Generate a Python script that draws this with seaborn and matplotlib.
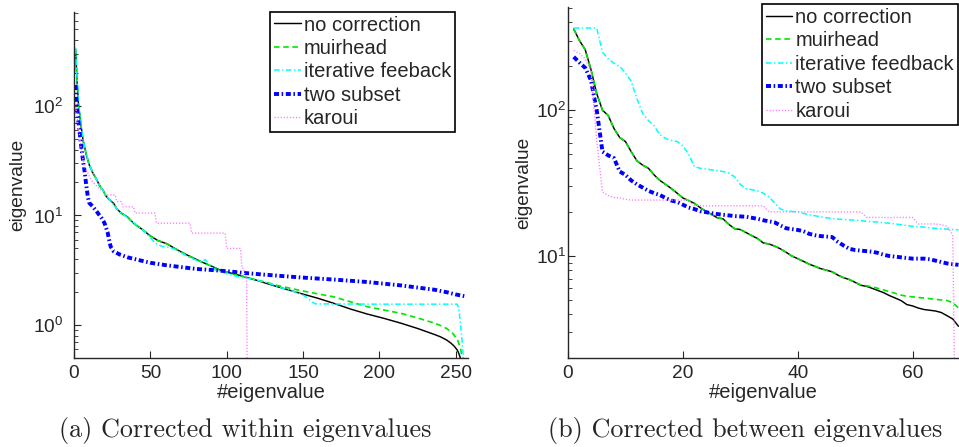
import numpy as np
import pandas as pd
import matplotlib
matplotlib.use("Agg")
import matplotlib.pyplot as plt
import seaborn as sns

# ---------------- data: panel (a) corrected within eigenvalues ----------------
a_nocorr_x = [1, 2, 3, 4, 5, 6, 7, 8, 10, 12, 15, 17, 19, 21, 23, 26, 28, 31, 35, 39, 45, 50, 55,
              61, 66, 72, 78, 83, 90, 95, 100, 108, 115, 120, 126, 135, 148, 160, 170, 181, 192,
              203, 214, 225, 236, 240, 244, 247, 249, 251, 252, 253, 254, 255]
a_nocorr = [330, 170, 100, 78, 60, 48, 42, 36, 29, 25, 21, 18.5, 17, 15, 14, 12.9, 11.5, 10.5, 9.7,
            8.5, 7.4, 6.5, 5.9, 5.5, 5.0, 4.5, 4.1, 3.8, 3.45, 3.2, 3.05, 2.85, 2.67, 2.55, 2.4,
            2.2, 1.95, 1.75, 1.58, 1.4, 1.26, 1.15, 1.04, 0.93, 0.82, 0.78, 0.73, 0.68, 0.64,
            0.59, 0.55, 0.5, 0.42, 0.35]

a_muir_x = [1, 2, 3, 4, 5, 6, 7, 8, 10, 12, 15, 17, 19, 21, 23, 26, 28, 31, 35, 39, 45, 50, 55,
            61, 66, 72, 78, 83, 90, 95, 100, 108, 115, 120, 126, 133, 148, 160, 170, 181, 192,
            203, 214, 225, 236, 240, 244, 248, 251, 253, 254, 255, 256]
a_muir = [330, 170, 100, 78, 60, 48, 42, 36, 29, 25, 21, 18.5, 17, 15, 14, 12.9, 11.5, 10.5, 9.7,
          8.5, 7.4, 6.5, 5.9, 5.5, 5.0, 4.5, 4.1, 3.8, 3.45, 3.2, 3.05, 2.85, 2.67, 2.57, 2.45,
          2.3, 2.07, 1.92, 1.81, 1.63, 1.47, 1.37, 1.28, 1.16, 1.04, 0.99, 0.93, 0.84, 0.74,
          0.62, 0.52, 0.45, 0.4]

a_iter_x = [1, 2, 3, 4, 5, 6, 8, 10, 12, 15, 17, 19, 21, 23, 26, 28, 31, 35, 39, 45, 50, 53, 58,
            63, 66, 72, 78, 83, 86, 88, 92, 100, 108, 115, 120, 126, 135, 148, 152, 156, 158,
            200, 251, 252, 253, 254, 255, 256]
a_iter = [340, 180, 105, 80, 62, 48, 37, 29, 25, 21, 18.5, 17, 15, 14.2, 12.5, 11.5, 10.5, 9.6,
          8.6, 7.4, 6.3, 5.6, 5.2, 5.1, 4.9, 4.4, 4.0, 3.8, 3.95, 3.6, 3.2, 2.95, 2.75, 2.65,
          2.55, 2.45, 2.2, 1.95, 1.8, 1.62, 1.56, 1.55, 1.55, 1.4, 1.05, 0.75, 0.5, 0.3]

a_two_x = [1, 2, 3, 4, 5, 6, 7, 8, 9, 10, 12, 15, 18, 20, 22, 23, 24, 26, 30, 35, 43, 50, 60, 70,
           80, 90, 100, 110, 125, 148, 170, 192, 214, 236, 245, 250, 256]
a_two = [155, 95, 70, 52, 40, 31, 25, 19, 15, 13, 12.2, 10.8, 9.5, 8.5, 7.0, 6.0, 5.2, 4.7, 4.4,
         4.15, 3.9, 3.7, 3.52, 3.38, 3.25, 3.18, 3.1, 3.0, 2.88, 2.72, 2.6, 2.47, 2.3, 2.1,
         1.98, 1.9, 1.83]

a_karoui_x = [1, 2, 3, 4, 5, 6, 7, 8, 10, 12, 15, 18, 20, 21, 27, 28, 31, 32, 39, 40, 53, 54, 76,
              77, 99, 100, 109, 110, 111, 112, 113, 114]
a_karoui = [105, 80, 62, 48, 38, 32, 28, 26, 23, 20.5, 18.5, 17, 16.2, 15.4, 15.4, 13.4, 13.4,
            12, 12, 10.5, 10.5, 8.5, 8.5, 6.9, 6.9, 5.0, 5.0, 3.3, 3.3, 2.8, 2.8, 0.01]

# ---------------- data: panel (b) corrected between eigenvalues ----------------
b_index = list(range(1, 69))
b_nocorr = [360, 300, 260, 190, 130, 100, 92, 75, 65, 61, 52, 45, 42, 40, 36, 33, 31, 29, 27, 25,
            24, 23, 21.5, 20.3, 19.3, 18.3, 18.0, 16.5, 15.4, 15.2, 14.5, 13.8, 13.2, 12.3, 12.1,
            11.7, 11.2, 10.6, 10.0, 9.6, 9.2, 8.8, 8.5, 8.2, 8.0, 7.8, 7.4, 7.1, 6.9, 6.6, 6.3,
            6.2, 6.0, 5.8, 5.6, 5.35, 5.15, 4.95, 4.65, 4.55, 4.4, 4.3, 4.25, 4.2, 4.1, 3.9, 3.7,
            3.3]
b_muir = [360, 300, 260, 190, 130, 100, 92, 75, 65, 61, 52, 45, 42, 40, 36, 33, 31, 29, 27, 25,
          24, 23, 21.5, 20.3, 19.3, 18.3, 18.0, 16.5, 15.4, 15.2, 14.5, 13.8, 13.2, 12.3, 12.1,
          11.7, 11.2, 10.6, 10.0, 9.6, 9.2, 8.8, 8.5, 8.2, 8.0, 7.8, 7.4, 7.1, 6.9, 6.6, 6.35,
          6.25, 6.15, 6.0, 5.85, 5.7, 5.55, 5.4, 5.3, 5.25, 5.2, 5.15, 5.1, 5.05, 5.0, 4.95,
          4.8, 4.4]
b_iter = [366, 366, 366, 366, 366, 250, 225, 210, 200, 180, 158, 120, 95, 85, 78, 68, 64, 62, 61,
          57, 50, 41, 40, 39.5, 39, 38.5, 38, 37, 35, 31, 29, 28.5, 28, 27, 25.5, 23, 21, 20.4,
          20.2, 20.1, 19.6, 19.2, 18.9, 18.6, 18.3, 18.1, 17.9, 17.8, 17.7, 17.6, 17.5, 17.3,
          17.2, 17.1, 16.9, 16.8, 16.6, 16.4, 16.2, 16.0, 15.9, 15.8, 15.6, 15.5, 15.4, 15.3,
          15.2, 15.1]
b_two = [232, 212, 195, 160, 100, 52, 49, 47, 38, 36, 33, 31, 29.5, 28, 27, 26.2, 25, 24, 23.5,
         22.5, 21.5, 21, 20.3, 20, 19.7, 19.4, 19.2, 19, 18.8, 18.7, 18.6, 18.3, 18, 17.6, 17.3,
         17, 16.2, 15.5, 15.3, 15.1, 14.8, 14.2, 13.9, 13.7, 13.6, 13.5, 12.5, 11.8, 11.2, 11.0,
         10.9, 10.8, 10.7, 10.5, 10.2, 10.0, 9.9, 9.8, 9.7, 9.6, 9.6, 9.6, 9.5, 9.3, 9.1, 8.9,
         8.8, 8.7]
b_karoui = [257, 245, 225, 185, 62, 27.5, 26, 25.2, 25, 24.5, 24.2, 24.2, 24.2, 24.2, 24.2, 24.2,
            24.2, 24.2, 24.2, 24.2, 24.2, 22.1, 22.1, 22.1, 22.1, 22.1, 22.1, 22.1, 22.1, 22.1,
            22.1, 22.1, 22.1, 22.1, 20.1, 20.1, 20.1, 20.1, 20.1, 20.1, 20.1, 20.1, 20.1, 20.1,
            20.1, 20.1, 20.1, 20.1, 20.1, 20.1, 20.1, 18.4, 18.4, 18.4, 18.4, 18.4, 18.4, 18.4,
            18.4, 18.4, 16.6, 16.6, 16.6, 16.6, 16.4, 16.0, 14.0, 0.01]

labels = ["no correction", "muirhead", "iterative feeback", "two subset", "karoui"]
labels_b = ["no correction", "muirhead", "iterative feedback", "two subset", "karoui"]
captions = ["(a) Corrected within eigenvalues", "(b) Corrected between eigenvalues"]

# ---------------- styling ----------------
sns.set_style("ticks")
plt.rcParams["font.family"] = ["Liberation Sans", "DejaVu Sans"]
plt.rcParams["mathtext.fontset"] = "custom"
plt.rcParams["mathtext.rm"] = "Liberation Sans"
plt.rcParams["lines.scale_dashes"] = False

styles = [
    dict(color="black", linestyle="-", linewidth=1.05),
    dict(color="#00e600", linestyle=(0, (4.0, 2.6)), linewidth=1.2),
    dict(color="#00ffff", linestyle=(0, (4.0, 1.8, 1.0, 1.8)), linewidth=1.1),
    dict(color="#0000ff", linestyle=(0, (3.6, 1.9, 1.1, 1.9)), linewidth=2.8),
    dict(color="#ff80ff", linestyle=(0, (0.9, 1.3)), linewidth=1.0),
]

W, H = 959, 447
fig = plt.figure(figsize=(W / 100, H / 100), dpi=100)
axA = fig.add_axes([74 / W, 1 - 358 / H, (468 - 74) / W, (358 - 12) / H])
axB = fig.add_axes([568 / W, 1 - 358 / H, (958.5 - 568) / W, (358 - 7) / H])

seriesA = [(a_nocorr_x, a_nocorr), (a_muir_x, a_muir), (a_iter_x, a_iter),
           (a_two_x, a_two), (a_karoui_x, a_karoui)]
seriesB = [(b_index, b_nocorr), (b_index, b_muir), (b_index, b_iter),
           (b_index, b_two), (b_index, b_karoui)]

for ax, series, labs, ypad, ylpad in [(axA, seriesA, labels, 7.5, 5),
                                      (axB, seriesB, labels_b, 1.5, 2.5)]:
    for (xs, ys), lab, st in zip(series, labs, styles):
        df = pd.DataFrame({"x": xs, "y": ys})
        sns.lineplot(data=df, x="x", y="y", ax=ax, estimator=None, sort=False,
                     label=lab, **st)
    ax.set_yscale("log")
    ax.set_xlabel("#eigenvalue", fontsize=14.5, labelpad=1)
    ax.set_ylabel("eigenvalue", fontsize=13.8, labelpad=ylpad)
    ax.tick_params(axis="both", which="both", direction="in", labelsize=13.8)
    ax.tick_params(axis="y", which="major", length=5, width=0.8, pad=ypad)
    ax.tick_params(axis="y", which="minor", length=3, width=0.6)
    ax.tick_params(axis="x", which="major", length=5, width=0.8, pad=5)
    for s in ["top", "right"]:
        ax.spines[s].set_visible(False)
    for s in ["left", "bottom"]:
        ax.spines[s].set_linewidth(1.0)
    ax.set_facecolor("white")

axA.set_xlim(0, 258)
axA.set_ylim(0.5, 720)
axA.set_xticks([0, 50, 100, 150, 200, 250])
axB.set_xlim(0, 68)
axB.set_ylim(2, 510)
axB.set_xticks([0, 20, 40, 60])

leg_kw = dict(fontsize=14.5, frameon=True, fancybox=False, framealpha=1, edgecolor="black",
              borderpad=0.2, handlelength=1.3, handletextpad=0.15, labelspacing=0.22,
              borderaxespad=0)
legA = axA.legend(loc="upper right", bbox_to_anchor=(455 / W, 1 - 11.5 / H),
                  bbox_transform=fig.transFigure, **leg_kw)
legB = axB.legend(loc="upper left", bbox_to_anchor=(762 / W, 1 - 4 / H),
                  bbox_transform=fig.transFigure, **leg_kw)
for leg in (legA, legB):
    leg.get_frame().set_linewidth(1.2)
    leg.set_clip_on(False)

fig.text(245.5 / W, 1 - 430 / H, captions[0], ha="center", va="center",
         fontsize=18.8, family="cmr10")
fig.text(745.5 / W, 1 - 430 / H, captions[1], ha="center", va="center",
         fontsize=18.8, family="cmr10")

fig.savefig("out.png", dpi=100, facecolor="white")
